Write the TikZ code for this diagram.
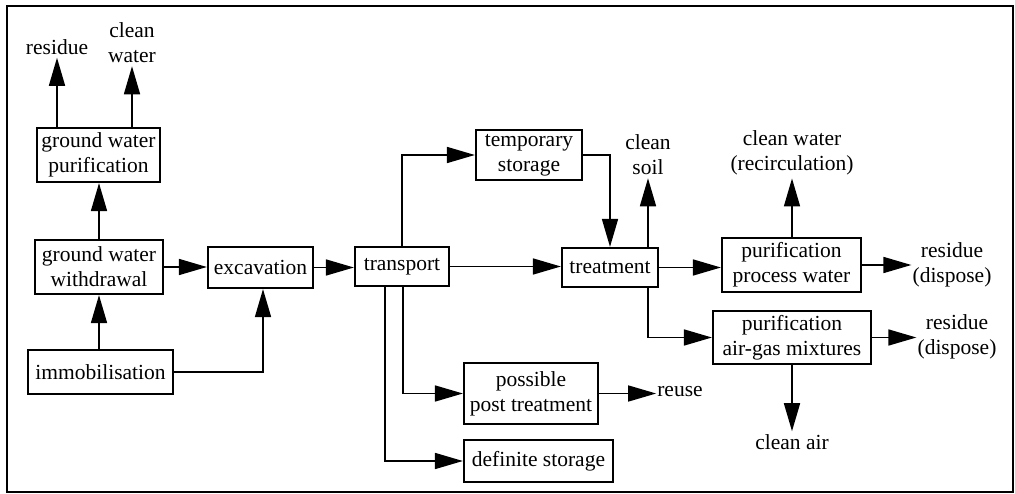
\documentclass[tikz,border=0pt]{standalone}
\usepackage{fontspec}
\setmainfont{Liberation Serif}
\usetikzlibrary{arrows.meta,calc}
\begin{document}
\begin{tikzpicture}[x=1pt,y=-1pt,
  every node/.style={font=\fontsize{21.5}{25}\selectfont, align=center},
  box/.style={draw, line width=2.2pt, inner sep=2pt},
  lbl/.style={inner sep=3pt},
  arr/.style={line width=1.6pt, -{Triangle[length=28pt,width=16pt]}},
  ln/.style={line width=1.6pt}]
\useasboundingbox (0,0) rectangle (1015,494);
\draw[line width=2.5pt] (7,6) rectangle (1013,492);
% boxes
\node[box, minimum width=123pt, minimum height=54pt] (gwp) at (98.5,155) {ground water\\purification};
\node[box, minimum width=128pt, minimum height=54pt] (gww) at (99,267) {ground water\\withdrawal};
\node[box, minimum width=105pt, minimum height=41pt] (exc) at (260.5,267.5) {excavation};
\node[box, minimum width=145pt, minimum height=44pt] (imm) at (100.5,372) {immobilisation};
\node[box, minimum width=94pt, minimum height=39pt] (trans) at (402,266.5) {transport};
\node[box, minimum width=106pt, minimum height=50pt] (temp) at (529,155) {temporary\\storage};
\node[box, minimum width=96pt, minimum height=39pt] (treat) at (610,267.5) {treatment};
\node[box, minimum width=139pt, minimum height=54pt] (ppw) at (791.5,265) {purification\\process water};
\node[box, minimum width=158pt, minimum height=53pt] (pagm) at (792,337.5) {purification\\air-gas mixtures};
\node[box, minimum width=134pt, minimum height=61pt] (ppt) at (531,393.5) {possible\\post treatment};
\node[box, minimum width=149pt, minimum height=42pt] (ds) at (538.5,461) {definite storage};
% labels
\node[lbl] (res0) at (57,47) {residue};
\node[lbl] (cw0) at (132,43) {clean\\water};
\node[lbl] (csoil) at (648,155) {clean\\soil};
\node[lbl] (cwr) at (792,153) {clean water\\(recirculation)};
\node[lbl, inner sep=1pt] (res1) at (952,265) {residue\\(dispose)};
\node[lbl, inner sep=1pt] (res2) at (957,337) {residue\\(dispose)};
\node[lbl, inner sep=1pt] (reuse) at (680,392) {reuse};
\node[lbl] (cair) at (792,442) {clean air};
% connectors
\draw[arr] (res0.south |- gwp.north) -- (res0.south);
\draw[arr] (cw0.south |- gwp.north) -- (cw0.south);
\draw[arr] (gww.north) -- (gww.north |- gwp.south);
\draw[arr] (gww.south |- imm.north) -- (gww.south);
\draw[arr] (gww.east) -- (gww.east -| exc.west);
\draw[arr] (imm.east) -| ([xshift=2.5pt]exc.south);
\draw[arr] (exc.east) -- (exc.east -| trans.west);
\draw[arr] (trans.north) |- (temp.west);
\draw[arr] (temp.east) -| (treat.north);
\draw[arr] (trans.east) -- (trans.east -| treat.west);
\draw[arr] (csoil.south |- treat.north) -- (csoil.south);
\draw[arr] (treat.east) -- (treat.east -| ppw.west);
\draw[arr] (csoil.south |- treat.south) |- (pagm.west);
\draw[arr] (cwr.south |- ppw.north) -- (cwr.south);
\draw[arr] (ppw.east) -- (ppw.east -| res1.west);
\draw[arr] (pagm.east) -- (pagm.east -| res2.west);
\draw[arr] (pagm.south) -- (pagm.south |- cair.north);
\draw[arr] ([xshift=1pt]trans.south) |- (ppt.west);
\draw[arr] ([xshift=-17pt]trans.south) |- (ds.west);
\draw[arr] (ppt.east) -- (ppt.east -| reuse.west);
\end{tikzpicture}
\end{document}
